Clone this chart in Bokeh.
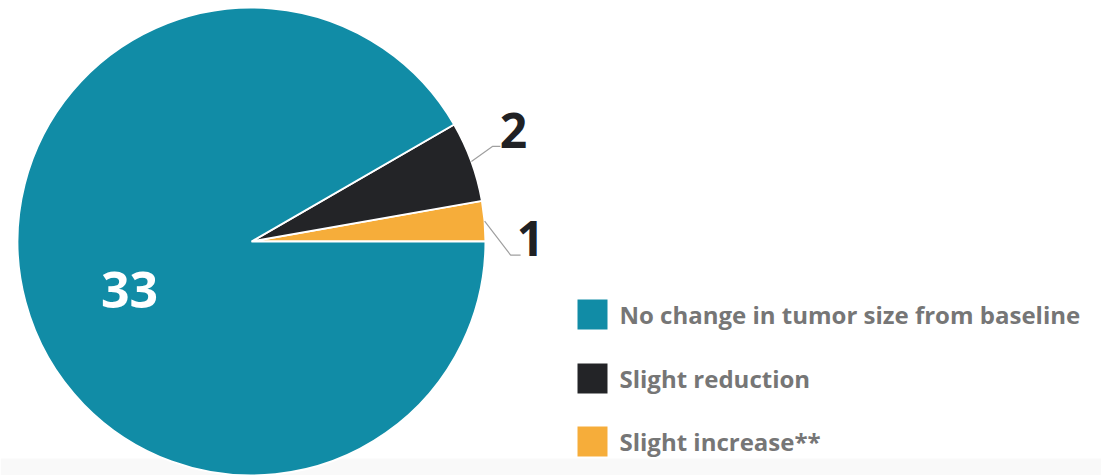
import numpy as np
from bokeh.plotting import figure
from bokeh.models import Range1d, ColumnDataSource
from bokeh.core.properties import value
from bokeh.embed import file_html
from bokeh.resources import INLINE

# ---- data ----
categories = ["No change in tumor size from baseline", "Slight reduction", "Slight increase**"]
counts = [33, 2, 1]
colors = ["#118ca6", "#232427", "#f6ad3a"]

W, H = 1101, 475
def py(y):  # pixel-from-top -> data y
    return H - y

p = figure(width=W, height=H, output_backend="svg", toolbar_location=None,
           x_range=Range1d(0, W), y_range=Range1d(0, H), min_border=0)
p.axis.visible = False
p.grid.visible = False
p.outline_line_color = None
p.background_fill_color = "white"
p.border_fill_color = "white"

# faint bottom band (video frame)
p.quad(left=0, right=W, bottom=0, top=py(458), fill_color="#f9f9f9", line_color=None)

# pie geometry
cx, cy, r = 251, py(241), 234
total = sum(counts)
# draw counter-clockwise from 0: last category first
order = list(reversed(range(len(counts))))
angles = np.array([counts[i] for i in order]) / total * 2 * np.pi
ends = np.cumsum(angles)
starts = ends - angles
src = ColumnDataSource(dict(
    start=starts, end=ends,
    color=[colors[i] for i in order],
    label=[categories[i] for i in order],
))
p.wedge(x=cx, y=cy, radius=r, start_angle="start", end_angle="end",
        fill_color="color", line_color="white", line_width=2, source=src)

mids = (starts + ends) / 2
# leader lines + labels for the small slices (order: increase, reduction)
offsets = {0: ((26, -34), (10, 0)), 1: ((21, 15), (8, 0))}
label_pos = {0: (530, py(238)), 1: (513, py(130))}
for k in (0, 1):
    idx = order[k]
    ex, ey = cx + r * np.cos(mids[k]), cy + r * np.sin(mids[k])
    (dx1, dy1), (dx2, dy2) = offsets[k]
    xs = [ex, ex + dx1, ex + dx1 + dx2]
    ys = [ey, ey + dy1, ey + dy1 + dy2]
    p.line(xs, ys, line_color="#a0a0a0", line_width=1.2)
    lx, ly = label_pos[k]
    p.text(x=[lx], y=[ly], text=[str(counts[idx])], text_font=value("Open Sans"),
           text_font_style="bold", text_font_size="48px", text_color="#202124",
           text_align="center", text_baseline="middle")

# big slice label
p.text(x=[129], y=[py(289)], text=[str(counts[0])], text_font=value("Open Sans"),
       text_font_style="bold", text_font_size="50px", text_color="white",
       text_align="center", text_baseline="middle")

# legend
leg_y = [314, 378, 441]
for i, cat in enumerate(categories):
    p.rect(x=[592], y=[py(leg_y[i])], width=30, height=30,
           fill_color=colors[i], line_color=None)
    p.text(x=[619], y=[py(leg_y[i])], text=[cat], text_font=value("Open Sans"),
           text_font_style="bold", text_font_size="24px", text_color="#767676",
           text_align="left", text_baseline="middle")

open("out.html", "w").write(file_html(p, INLINE))
